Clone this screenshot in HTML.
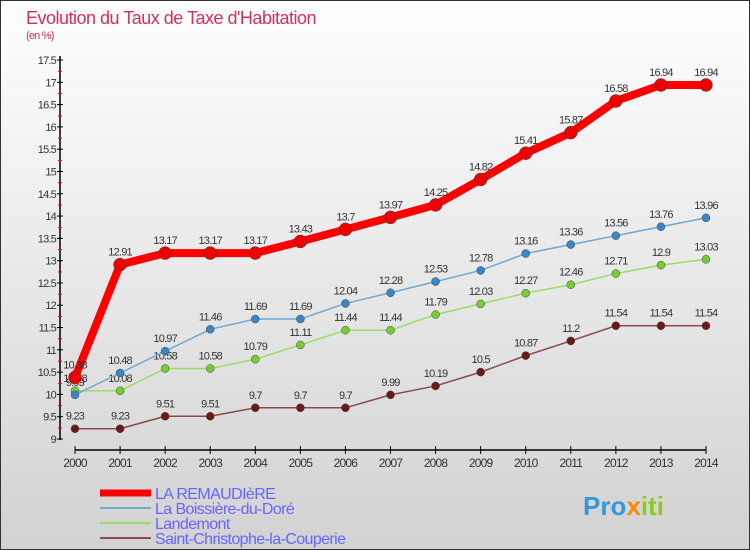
<!DOCTYPE html>
<html><head><meta charset="utf-8"><style>
body{margin:0;width:750px;height:550px;overflow:hidden;font-family:"Liberation Sans","DejaVu Sans",sans-serif}
#c{position:absolute;left:0;top:0;width:748px;height:548px;border:1px solid #333;background:linear-gradient(#ffffff,#d2d2d2)}
</style></head><body>
<div id="c">
<svg id="s" width="750" height="550" style="position:absolute;left:-1px;top:-1px"></svg>
</div>
<script>
const years=[2000,2001,2002,2003,2004,2005,2006,2007,2008,2009,2010,2011,2012,2013,2014];
const remaudiere=[10.38,12.91,13.17,13.17,13.17,13.43,13.7,13.97,14.25,14.82,15.41,15.87,16.58,16.94,16.94];
const boissiere=[9.99,10.48,10.97,11.46,11.69,11.69,12.04,12.28,12.53,12.78,13.16,13.36,13.56,13.76,13.96];
const landemont=[10.08,10.08,10.58,10.58,10.79,11.11,11.44,11.44,11.79,12.03,12.27,12.46,12.71,12.9,13.03];
const stchristophe=[9.23,9.23,9.51,9.51,9.7,9.7,9.7,9.99,10.19,10.5,10.87,11.2,11.54,11.54,11.54];
const yTicks=[9,9.5,10,10.5,11,11.5,12,12.5,13,13.5,14,14.5,15,15.5,16,16.5,17,17.5];
const NS="http://www.w3.org/2000/svg";const svg=document.getElementById('s');
function X(i){return 75+i*(706-75)/(years.length-1);}
function Y(v){return 439-(v-9)*(439-60)/8.5;}
function el(t,a,p){const e=document.createElementNS(NS,t);for(const k in a)e.setAttribute(k,a[k]);(p||svg).appendChild(e);return e;}
function txt(x,y,s,a,p){const e=el('text',Object.assign({x:x,y:y,'font-size':12,fill:'#333','letter-spacing':'-0.8'},a||{}),p);e.textContent=s;return e;}
let t=txt(26,24,"Evolution du Taux de Taxe d'Habitation",{'font-size':18,fill:'#d0305a','letter-spacing':'-0.5'});

t=txt(26,39,"(en %)",{'font-size':11,fill:'#d0305a'});

let a=el('line',{x1:60,y1:56,x2:60,y2:440,stroke:'#000','stroke-width':1.5});
a=el('line',{x1:75,y1:450,x2:706,y2:450,stroke:'#000','stroke-width':1.5});
yTicks.forEach(v=>{const y=Y(v);el('line',{x1:57,y1:y,x2:63,y2:y,stroke:'#000'});
 if(v<17.5)el('line',{x1:58,y1:y-11,x2:62,y2:y-11,stroke:'#e00'});
 const l=txt(56,y+4,String(v),{'text-anchor':'end','font-size':11});});
years.forEach((yr,i)=>{el('line',{x1:X(i),y1:446,x2:X(i),y2:454,stroke:'#000'});
 const l=txt(X(i),467,String(yr),{'text-anchor':'middle','font-size':12});});
function series(vals,color,w,r,name,dot){
 const g=el('g',{});
 el('polyline',{points:vals.map((v,i)=>X(i)+','+Y(v)).join(' '),fill:'none',stroke:color,'stroke-width':w,'stroke-linejoin':'round'},g);
 vals.forEach((v,i)=>{const c=el('circle',{cx:X(i),cy:Y(v),r:r,fill:dot,stroke:'#444','stroke-width':0.5},g);
  const l=txt(X(i),Y(v)-9,String(v),{'text-anchor':'middle','font-size':11},g);});
}
series(stchristophe,'#8b4a4a',1.5,4,'series-saint-christophe','#6a1a1a');
series(landemont,'#99dd66',1.5,4,'series-landemont','#77cc33');
series(boissiere,'#6fa8d0',1.5,4,'series-boissiere','#3a86c4');
series(remaudiere,'#ff0000',8,6.5,'series-remaudiere','#ee0000');
const leg=[['LA REMAUDIèRE','#ff0000',7],['La Boissière-du-Doré','#6fa8d0',2],['Landemont','#99dd66',2],['Saint-Christophe-la-Couperie','#8b4a4a',2]];
leg.forEach((L,i)=>{const y=493+i*15;const g=el('g',{});
 el('line',{x1:100,y1:y,x2:151,y2:y,stroke:L[1],'stroke-width':L[2]},g);
 txt(155,y+6,L[0],{'font-size':16,fill:'#6666ff','letter-spacing':'-0.6'},g);});
t=el('text',{x:583,y:515,'font-size':26,'font-weight':'bold','letter-spacing':'0'});

[['Pro','#3399dd'],['x','#ff8800'],['iti','#88cc22']].forEach(p=>{const s=el('tspan',{fill:p[1]},t);s.textContent=p[0];});
</script>
</body></html>
